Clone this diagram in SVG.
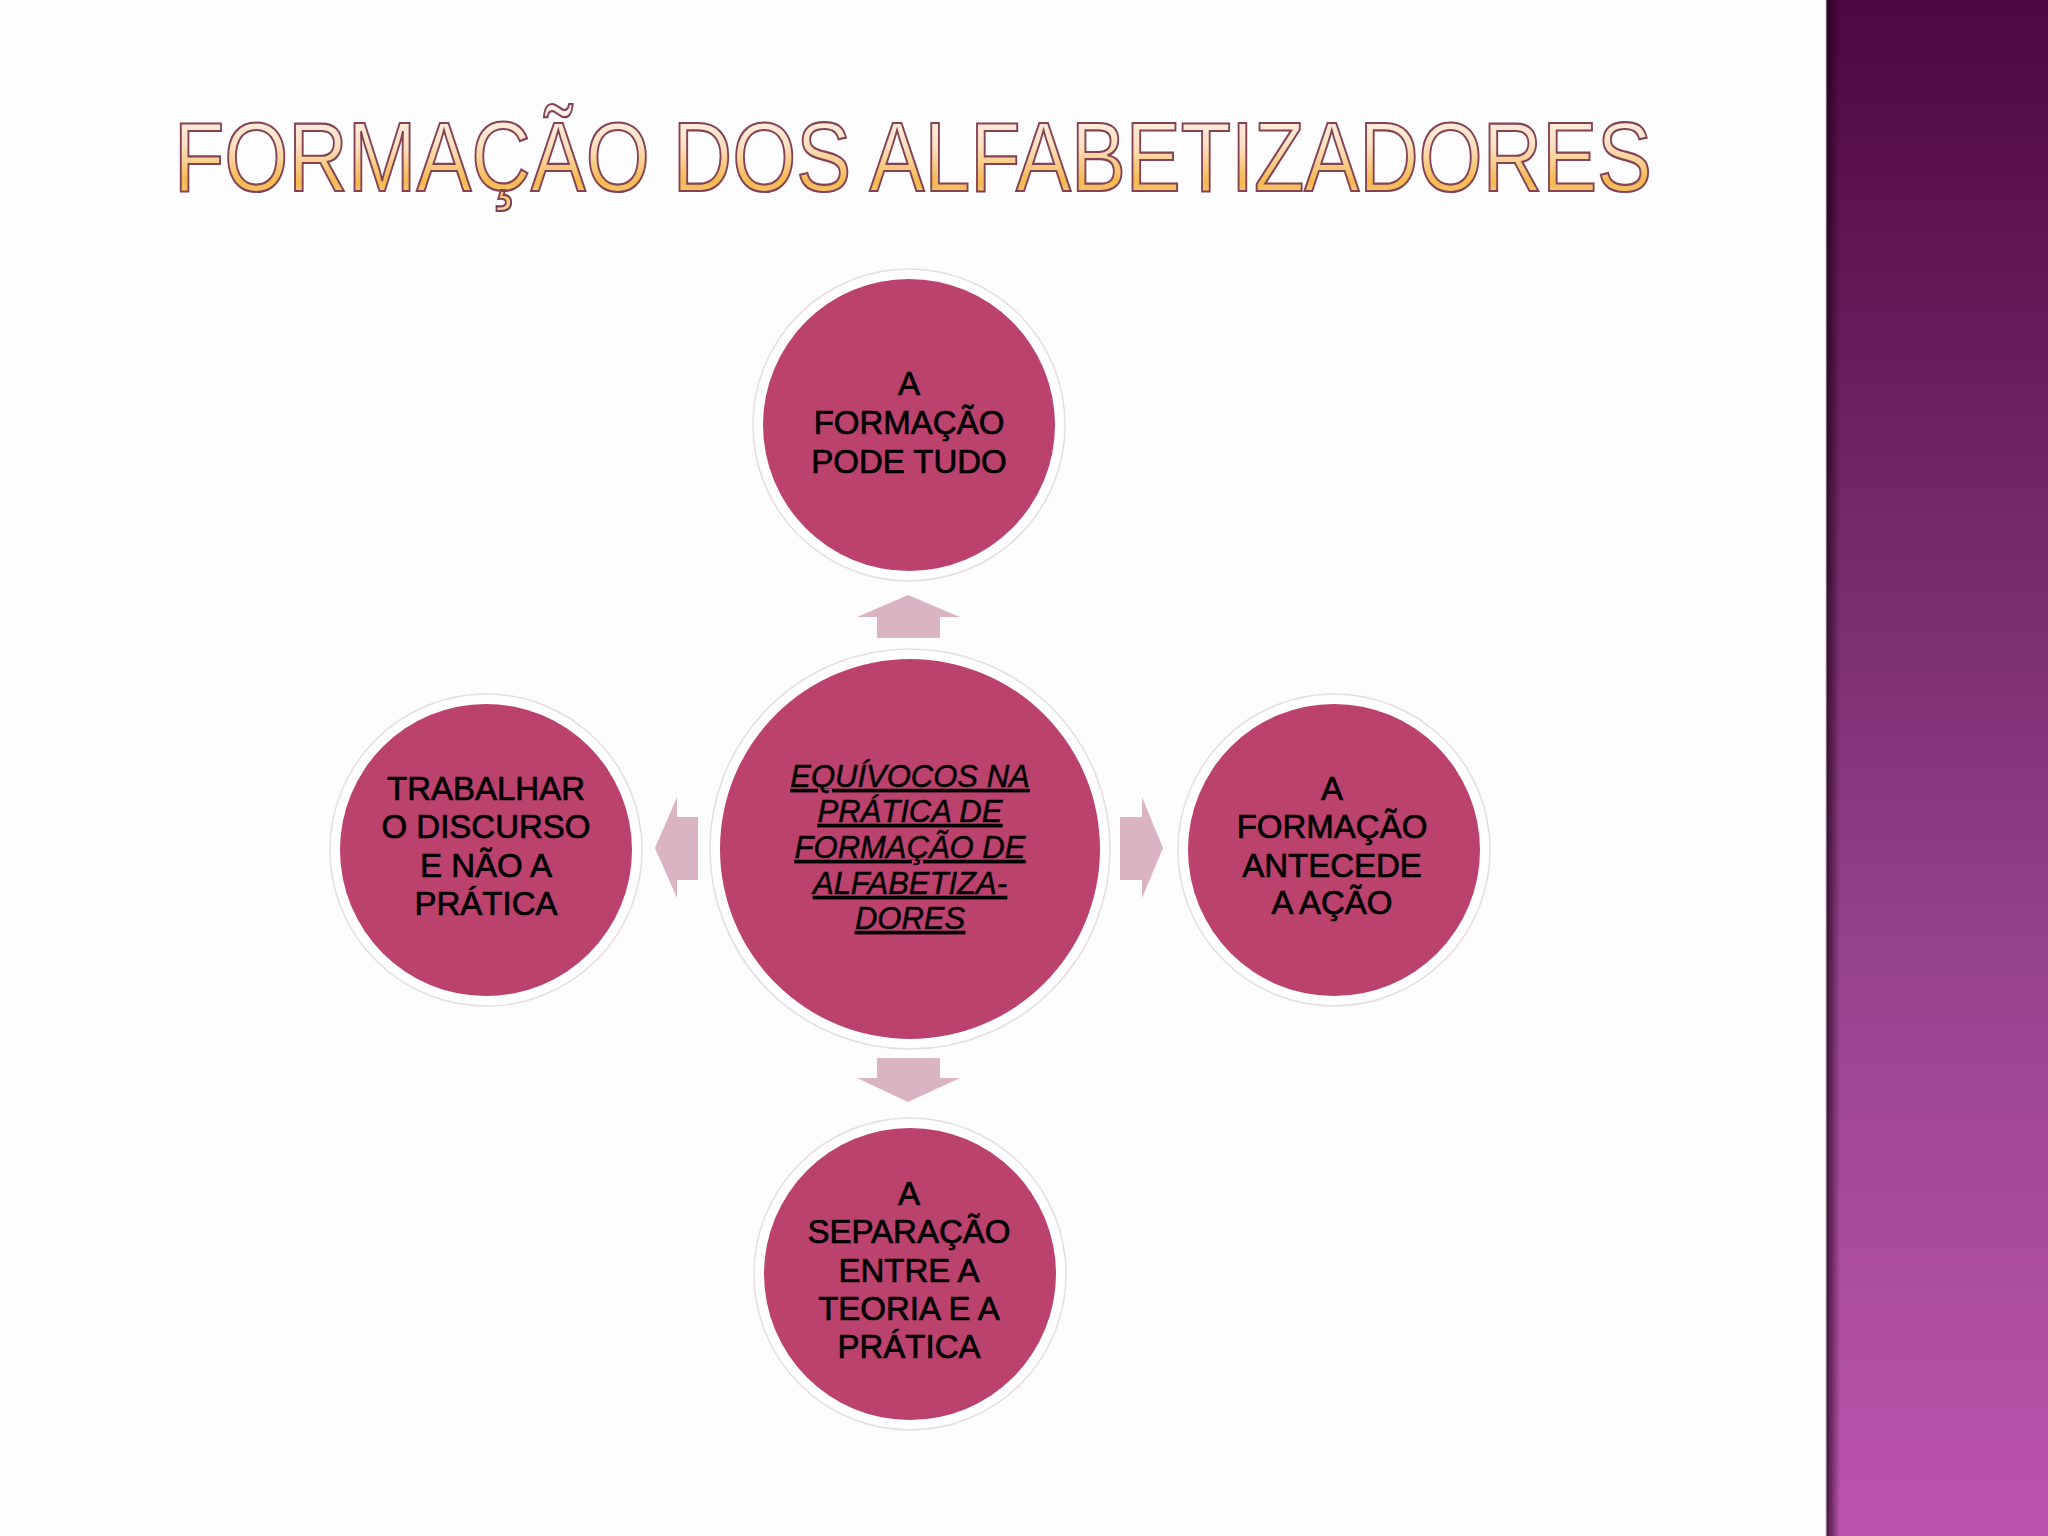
<svg xmlns="http://www.w3.org/2000/svg" width="2048" height="1536" viewBox="0 0 2048 1536">
  <defs>
    <linearGradient id="band" x1="0" y1="0" x2="0" y2="1">
      <stop offset="0" stop-color="#4e0740"/>
      <stop offset="0.35" stop-color="#74296a"/>
      <stop offset="0.65" stop-color="#9a4490"/>
      <stop offset="1" stop-color="#bb53ad"/>
    </linearGradient>
    <linearGradient id="bandShade" x1="0" y1="0" x2="1" y2="0">
      <stop offset="0" stop-color="#1a0015" stop-opacity="0.75"/>
      <stop offset="1" stop-color="#1a0015" stop-opacity="0"/>
    </linearGradient>
    <linearGradient id="titleFill" x1="0" y1="0" x2="0" y2="1">
      <stop offset="0" stop-color="#fff6f0"/>
      <stop offset="0.4" stop-color="#fde0c0"/>
      <stop offset="0.72" stop-color="#f4b94f"/>
      <stop offset="1" stop-color="#fbd9a4"/>
    </linearGradient>
    <style>
      .ring { fill: #ffffff; stroke: #e6dde1; stroke-width: 1.5; }
      .disc { fill: #bc426e; }
      .lbl { font-family: "Liberation Sans", Arial, sans-serif; font-size: 33px; fill: #000000; stroke: #000000; stroke-width: 0.7; text-anchor: middle; }
      .ctr { font-family: "Liberation Sans", Arial, sans-serif; font-size: 31px; font-style: italic; fill: #000000; stroke: #000000; stroke-width: 0.5; text-anchor: middle; text-decoration: underline; }
      .arrow { fill: #dbb4c3; }
      .title { font-family: "Liberation Sans", Arial, sans-serif; font-size: 98px; fill: url(#titleFill); stroke: #844256; stroke-width: 2.2; }
    </style>
  </defs>

  <rect x="0" y="0" width="2048" height="1536" fill="#fdfdfd"/>

  <!-- right decorative band -->
  <rect x="1826" y="0" width="222" height="1536" fill="url(#band)"/>
  <rect x="1826" y="0" width="14" height="1536" fill="url(#bandShade)"/>
  <line x1="1826" y1="0" x2="1826" y2="1536" stroke="#cfc6cc" stroke-width="1"/>

  <!-- title -->
  <text class="title" x="174" y="191" textLength="1478" lengthAdjust="spacingAndGlyphs">FORMAÇÃO DOS ALFABETIZADORES</text>

  <!-- connectors -->
  <g id="connectors">
    <polygon class="arrow" points="908,595 960,617 940,617 940,638 877,638 877,617 857,617"/>
    <polygon class="arrow" points="908,1102 960,1078 940,1078 940,1058 877,1058 877,1078 857,1078"/>
    <polygon class="arrow" points="655,848 677,797 677,817 698,817 698,880 677,880 677,898"/>
    <polygon class="arrow" points="1163,848 1142,797 1142,817 1120,817 1120,880 1142,880 1142,898"/>
  </g>

  <!-- center node -->
  <g id="node-center">
    <circle class="ring" cx="910" cy="849" r="200"/>
    <circle class="disc" cx="910" cy="849" r="190"/>
    <text class="ctr"><tspan x="910" y="787">EQUÍVOCOS NA</tspan><tspan x="910" y="822">PRÁTICA DE</tspan><tspan x="910" y="858">FORMAÇÃO DE</tspan><tspan x="910" y="894">ALFABETIZA-</tspan><tspan x="910" y="929">DORES</tspan></text>
  </g>

  <!-- top node -->
  <g id="node-top">
    <circle class="ring" cx="909" cy="425" r="156"/>
    <circle class="disc" cx="909" cy="425" r="146"/>
    <text class="lbl"><tspan x="909" y="395">A</tspan><tspan x="909" y="434">FORMAÇÃO</tspan><tspan x="909" y="473">PODE TUDO</tspan></text>
  </g>

  <!-- left node -->
  <g id="node-left">
    <circle class="ring" cx="486" cy="850" r="156"/>
    <circle class="disc" cx="486" cy="850" r="146"/>
    <text class="lbl"><tspan x="486" y="800">TRABALHAR</tspan><tspan x="486" y="838">O DISCURSO</tspan><tspan x="486" y="877">E NÃO A</tspan><tspan x="486" y="915">PRÁTICA</tspan></text>
  </g>

  <!-- right node -->
  <g id="node-right">
    <circle class="ring" cx="1334" cy="850" r="156"/>
    <circle class="disc" cx="1334" cy="850" r="146"/>
    <text class="lbl"><tspan x="1332" y="800">A</tspan><tspan x="1332" y="838">FORMAÇÃO</tspan><tspan x="1332" y="877">ANTECEDE</tspan><tspan x="1332" y="914">A AÇÃO</tspan></text>
  </g>

  <!-- bottom node -->
  <g id="node-bottom">
    <circle class="ring" cx="910" cy="1274" r="156"/>
    <circle class="disc" cx="910" cy="1274" r="146"/>
    <text class="lbl"><tspan x="909" y="1205">A</tspan><tspan x="909" y="1243">SEPARAÇÃO</tspan><tspan x="909" y="1282">ENTRE A</tspan><tspan x="909" y="1320">TEORIA E A</tspan><tspan x="909" y="1358">PRÁTICA</tspan></text>
  </g>
</svg>
